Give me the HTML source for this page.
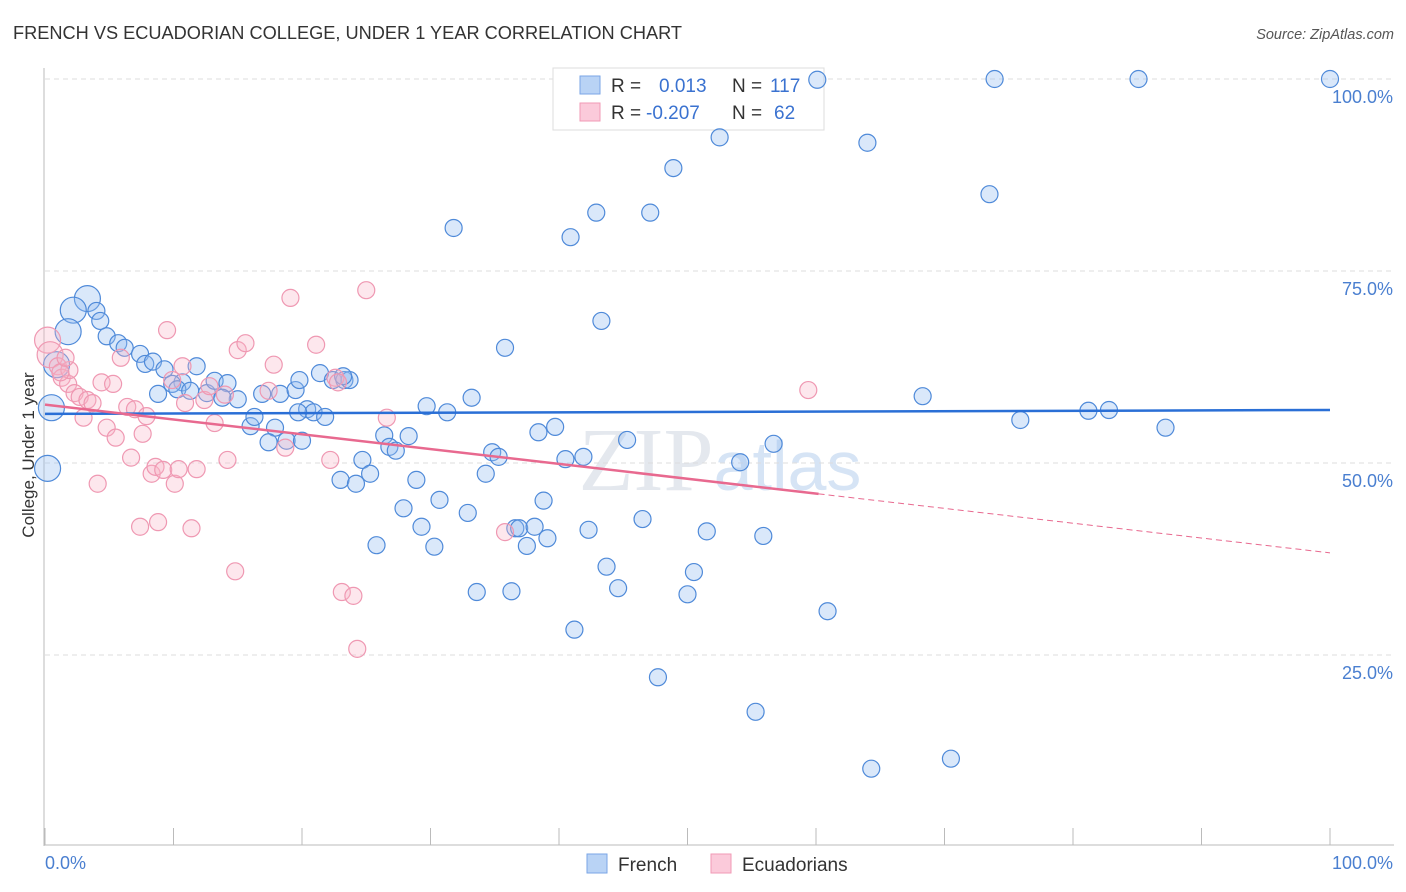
<!DOCTYPE html>
<html><head><meta charset="utf-8"><style>
body{margin:0;background:#fff;font-family:"Liberation Sans",sans-serif}
svg{display:block}
</style></head><body>
<svg id="chart" width="1406" height="892">
<text x="13" y="39" font-size="18.2" fill="#333">FRENCH VS ECUADORIAN COLLEGE, UNDER 1 YEAR CORRELATION CHART</text>
<text x="1394" y="39" font-size="14.5" fill="#555" font-style="italic" text-anchor="end">Source: ZipAtlas.com</text>
<text x="720" y="490" font-size="90" fill="#e4e8ee" text-anchor="middle" font-family="Liberation Serif,serif">ZIP<tspan fill="#d6e4f5" font-family="Liberation Sans,sans-serif" font-size="70">atlas</tspan></text>
<g id="grid"></g>
<line x1="44" y1="68" x2="44" y2="846" stroke="#bbb"/>
<line x1="44" y1="845" x2="1394" y2="845" stroke="#bbb"/>
<g id="xticks"></g>
<text x="34" y="455" font-size="17" fill="#333" text-anchor="middle" transform="rotate(-90 34 455)">College, Under 1 year</text>
<text x="45" y="869" font-size="18" fill="#4a7fd0">0.0%</text>
<text x="1393" y="869" font-size="18" fill="#4a7fd0" text-anchor="end">100.0%</text>
<g>
<rect x="553" y="68" width="271" height="62" fill="#fff" stroke="#ddd"/>
<rect x="580" y="76" width="20" height="18" fill="#b9d3f5" stroke="#7aa6e6"/>
<rect x="580" y="103" width="20" height="18" fill="#fbcada" stroke="#f09ab5"/>
<text x="611" y="92" font-size="19" fill="#333">R = <tspan x="659" fill="#3a72d0">0.013</tspan><tspan x="732" fill="#333">N =</tspan><tspan x="770" fill="#3a72d0">117</tspan></text>
<text x="611" y="119" font-size="19" fill="#333">R = <tspan x="646" fill="#3a72d0">-0.207</tspan><tspan x="732" fill="#333">N =</tspan><tspan x="774" fill="#3a72d0">62</tspan></text>
</g>
<g id="pts"></g>
<g id="lines"></g>
<g>
<rect x="587" y="854" width="20" height="19" fill="#b9d3f5" stroke="#7aa6e6"/>
<text x="618" y="871" font-size="19" fill="#333">French</text>
<rect x="711" y="854" width="20" height="19" fill="#fbcada" stroke="#f09ab5"/>
<text x="742" y="871" font-size="19" fill="#333">Ecuadorians</text>
</g>
</svg>
<script>
const yTicks=[25,50,75,100];
const yTickLabels=["25.0%","50.0%","75.0%","100.0%"];
const xTickVals=[0,10,20,30,40,50,60,70,80,90,100];
const frenchX=[3.3,2.2,1.8,0.9,0.5,0.2,4.0,4.3,4.8,5.7,6.2,7.4,7.8,8.4,9.3,10.7,9.9,8.8,11.8,10.3,11.3,12.6,13.2,14.2,15.0,13.8,16.0,16.3,17.9,17.4,16.9,18.3,19.5,19.8,20.4,20.9,21.8,21.4,22.4,23.3,23.7,23.2,19.7,18.8,20.0,23.0,24.2,24.7,25.3,25.8,26.4,26.8,27.3,28.3,27.9,28.9,29.3,30.3,30.7,29.7,31.3,31.8,32.9,33.2,33.6,34.3,34.8,35.3,35.8,36.3,36.6,36.9,37.5,38.1,38.4,38.8,39.1,39.7,40.5,40.9,41.2,41.9,42.3,42.9,43.3,43.7,44.6,45.3,46.5,47.1,47.7,48.9,50.0,50.5,51.5,52.5,54.1,55.3,55.9,56.7,60.1,60.9,64.0,64.3,68.3,70.5,73.5,73.9,75.9,81.2,82.8,85.1,87.2,100];
const frenchY=[71.4,69.9,67.1,62.8,57.2,49.3,69.8,68.5,66.5,65.6,65.0,64.2,62.9,63.2,62.2,60.5,60.3,59.0,62.6,59.6,59.4,59.1,60.7,60.4,58.3,58.5,54.8,56.0,54.6,52.7,59.0,59.0,59.5,60.8,57.0,56.6,56.0,61.7,60.8,60.8,60.8,61.3,56.6,52.9,52.9,47.8,47.3,50.4,48.6,39.3,53.6,52.1,51.6,53.5,44.1,47.8,41.7,39.1,45.2,57.4,56.6,80.6,43.5,58.5,33.2,48.6,51.4,50.8,65.0,33.3,41.5,41.5,39.2,41.7,54.0,45.1,40.2,54.7,50.5,79.4,28.3,50.8,41.3,82.6,68.5,36.5,33.7,53.0,42.7,82.6,22.1,88.4,32.9,35.8,41.1,92.4,50.1,17.6,40.5,52.5,99.9,30.7,91.7,10.2,58.7,11.5,85.0,100,55.6,56.8,56.9,100,54.6,100];
const ecuX=[0.2,0.4,1.0,1.3,1.8,1.9,2.3,2.7,3.0,3.3,3.7,4.1,4.4,4.8,5.3,5.5,5.9,6.4,6.7,7.0,7.4,7.6,7.9,8.3,8.6,8.8,9.2,9.5,9.9,10.1,10.4,10.7,10.9,11.4,11.8,12.4,12.8,13.2,14.0,14.2,14.8,15.0,15.6,17.4,17.8,18.7,19.1,21.1,22.2,22.6,22.8,23.1,24.0,24.3,25.0,26.6,35.8,59.4,1.2,1.6];
const ecuY=[66.0,64.1,62.6,61.1,60.3,62.1,59.1,58.6,55.9,58.2,57.8,47.3,60.5,54.6,60.3,53.3,63.7,57.3,50.7,57.0,41.7,53.8,56.1,48.6,49.5,42.3,49.1,67.3,60.8,47.3,49.2,62.6,57.8,41.5,49.2,58.2,60.0,55.2,58.9,50.4,35.9,64.7,65.6,59.4,62.8,52.0,71.5,65.4,50.4,61.1,60.5,33.2,32.7,25.8,72.5,55.9,41.0,59.5,61.8,63.7];
const frenchTrend=[56.4,56.9];
const ecuTrend=[57.6,38.3];
const ecuSolidEnd=60.2;

const NS="http://www.w3.org/2000/svg";
const X=v=>45+v*12.85, Y=v=>847-v*7.68;
function mk(tag,attrs,parent){const e=document.createElementNS(NS,tag);for(const k in attrs)e.setAttribute(k,attrs[k]);document.getElementById(parent).appendChild(e);return e;}
yTicks.forEach((t,i)=>{
 const l=mk('line',{x1:45,x2:1394,y1:Y(t),y2:Y(t),stroke:'#ddd','stroke-dasharray':'5,4'},'grid');
 
 
 const tx=mk('text',{x:1393,y:Y(t)+24,'font-size':18,fill:'#4a7fd0','text-anchor':'end'},'grid');
 tx.textContent=yTickLabels[i];
 
 
});
xTickVals.forEach(t=>{
 const l=mk('line',{x1:X(t),x2:X(t),y1:828,y2:845,stroke:'#bbb'},'xticks');
 
 
});
frenchX.forEach((v,i)=>{
 const c=mk('circle',{cx:X(v),cy:Y(frenchY[i]),r:i<6?13:8.5,fill:'rgba(150,190,240,0.35)',stroke:'#4f8ad9','stroke-width':1.2},'pts');
 
 
});
ecuX.forEach((v,i)=>{
 const c=mk('circle',{cx:X(v),cy:Y(ecuY[i]),r:i<2?13:8.5,fill:'rgba(248,180,200,0.32)',stroke:'#ef98b2','stroke-width':1.2},'pts');
 
 
});
const fl=mk('line',{x1:X(0),y1:Y(frenchTrend[0]),x2:X(100),y2:Y(frenchTrend[1]),stroke:'#2a6fd6','stroke-width':2.5},'lines');


const ey=v=>ecuTrend[0]+(ecuTrend[1]-ecuTrend[0])*v/100;
const el=mk('line',{x1:X(0),y1:Y(ey(0)),x2:X(ecuSolidEnd),y2:Y(ey(ecuSolidEnd)),stroke:'#e8698f','stroke-width':2.5},'lines');


const ed=mk('line',{x1:X(ecuSolidEnd),y1:Y(ey(ecuSolidEnd)),x2:X(100),y2:Y(ey(100)),stroke:'#e8698f','stroke-width':1,'stroke-dasharray':'6,4'},'lines');


</script>
</body></html>
